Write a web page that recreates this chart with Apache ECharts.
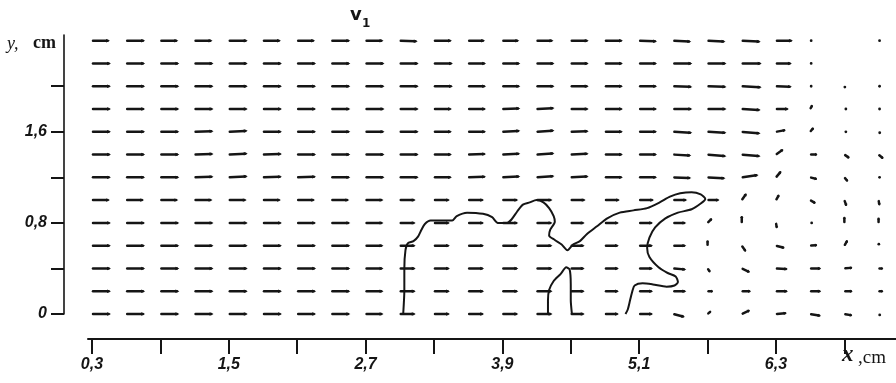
<!DOCTYPE html>
<html>
<head>
<meta charset="utf-8">
<script src="https://cdn.jsdelivr.net/npm/echarts@6/dist/echarts.min.js"></script>
<style>
  html, body { margin: 0; padding: 0; background: #fff; }
  #main { width: 896px; height: 383px; }
</style>
</head>
<body>
<div id="main"></div>
<script>
// grid of the measured velocity field (cm)
const columnsX = [0.3, 0.6, 0.9, 1.2, 1.5, 1.8, 2.1, 2.4, 2.7, 3.0, 3.3, 3.6,
                  3.9, 4.2, 4.5, 4.8, 5.1, 5.4, 5.7, 6.0, 6.3, 6.6, 6.9, 7.2];
const rowsY = [2.4, 2.2, 2.0, 1.8, 1.6, 1.4, 1.2, 1.0, 0.8, 0.6, 0.4, 0.2, 0];

// vector magnitude per row (arbitrary units), top row first
const speedRows = [
  [18, 19, 18, 18, 19, 18, 18, 19, 18, 18, 18, 17, 17, 17, 18, 18, 18, 18, 18, 19, 17, 2, 0, 2],
  [19, 19, 19, 19, 19, 19, 19, 19, 19, 19, 19, 18, 18, 18, 18, 18, 18, 19, 19, 20, 16, 2, 0, 0],
  [19, 19, 19, 19, 19, 19, 19, 19, 19, 19, 19, 18, 18, 18, 18, 18, 18, 19, 19, 20, 16, 2, 2, 2],
  [19, 19, 19, 19, 19, 19, 19, 19, 19, 19, 18, 18, 18, 18, 18, 18, 18, 19, 19, 19, 13, 4, 3, 2],
  [19, 19, 19, 19, 19, 19, 19, 19, 19, 19, 18, 18, 18, 18, 18, 18, 18, 19, 19, 19, 10, 5, 3, 3],
  [19, 19, 19, 19, 19, 19, 19, 19, 19, 19, 18, 18, 18, 18, 18, 18, 18, 18, 19, 19, 9, 7, 6, 6],
  [19, 19, 19, 19, 19, 19, 19, 19, 19, 19, 18, 18, 18, 18, 18, 18, 18, 18, 18, 17, 8, 7, 5, 2],
  [18, 18, 18, 18, 18, 18, 18, 18, 18, 16, 16, 16, 16, 16, 15, 15, 15, 14, 12, 8, 6, 6, 6, 5],
  [19, 19, 19, 19, 19, 19, 19, 19, 18, 16, 16, 16, 16, 16, 14, 14, 14, 13, 6, 7, 5, 3, 6, 5],
  [19, 19, 19, 19, 19, 19, 19, 19, 18, 16, 16, 16, 16, 16, 14, 14, 14, 13, 5, 7, 9, 7, 6, 3],
  [19, 19, 19, 19, 19, 19, 19, 19, 18, 16, 16, 16, 16, 16, 14, 14, 14, 13, 4, 9, 12, 11, 8, 4],
  [19, 19, 19, 19, 19, 19, 19, 19, 18, 16, 16, 16, 16, 16, 14, 14, 14, 13, 5, 9, 12, 11, 8, 4],
  [19, 19, 19, 19, 19, 19, 19, 19, 18, 16, 16, 16, 16, 16, 14, 14, 14, 12, 4, 9, 11, 11, 8, 3]
];

// vector direction per row (degrees, counter-clockwise from +x)
const angleRows = [
  [0, 0, 0, 0, 0, 0, 0, 0, 0, -2, 0, 0, 0, 0, 0, 0, -2, -3, -3, -3, 0, 0, 0, 0],
  [0, 0, 0, 0, 0, 0, 0, 0, 0, 0, 0, 0, 0, 0, 0, 0, 0, 0, 0, 0, 0, 0, 0, 0],
  [0, 0, 0, 0, 0, 0, 0, 0, 0, 0, 0, 0, 0, 0, 0, 0, 0, -2, -2, -3, -2, 0, -60, 0],
  [0, 0, 0, 0, 0, 0, 0, 0, 0, 0, 0, 0, 2, 3, 0, 0, 0, 0, 0, -3, 0, 60, 0, 0],
  [0, 0, 0, 2, 3, 0, 0, 0, 0, 0, 0, 0, 3, 4, 2, 0, 0, -3, -3, -5, 10, 50, 0, -40],
  [0, 0, 0, 2, 3, 2, 0, 0, 0, 0, 0, 2, 3, 4, 3, 0, 0, -3, -5, -5, 35, 0, -35, -40],
  [0, 0, 0, 2, 3, 2, 2, 0, 0, 0, 0, 2, 3, 4, 3, 0, 0, -2, -3, 8, 50, -15, -50, 0],
  [0, 0, 0, 0, 0, 0, 0, 0, 0, 0, 0, 0, 0, 0, 0, 0, 0, 0, 0, 55, 60, -30, -70, -80],
  [0, 0, 0, 0, 0, 0, 0, 0, 0, 0, 0, 0, 0, 0, 0, 0, 0, 0, 45, 90, -80, 0, 90, 90],
  [0, 0, 0, 0, 0, 0, 0, 0, 0, 0, 0, 0, 0, 0, 0, 0, 0, 0, 90, -55, -15, 5, 60, 80],
  [0, 0, 0, 0, 0, 0, 0, 0, 0, 0, 0, 0, 0, 0, 0, 0, 0, -5, -55, -25, -3, 0, 5, 0],
  [0, 0, 0, 0, 0, 0, 0, 0, 0, 0, 0, 0, 0, 0, 0, 0, 0, 0, 0, 0, 0, 0, 0, 0],
  [0, 0, 0, 0, 0, 0, 0, 0, 0, 0, 0, 0, 0, 0, 0, 0, 0, -15, 40, 25, 5, -10, -10, -40]
];

// interface outline (cm)
const interfaceLine = [
  [3.03, 0], [3.04, 0.21], [3.04, 0.40], [3.05, 0.56], [3.07, 0.62], [3.12, 0.64],
  [3.16, 0.68], [3.19, 0.74], [3.22, 0.79], [3.27, 0.82], [3.37, 0.82], [3.46, 0.82],
  [3.50, 0.86], [3.59, 0.89], [3.73, 0.88], [3.81, 0.85], [3.86, 0.80], [3.94, 0.80],
  [3.98, 0.83], [4.03, 0.90], [4.08, 0.96], [4.14, 0.98], [4.20, 1.00], [4.26, 0.98],
  [4.31, 0.93], [4.35, 0.86], [4.36, 0.81], [4.32, 0.74], [4.31, 0.69], [4.36, 0.65],
  [4.42, 0.61], [4.47, 0.56], [4.52, 0.61], [4.58, 0.64], [4.64, 0.70], [4.73, 0.77],
  [4.82, 0.84], [4.93, 0.89], [5.05, 0.91], [5.17, 0.93], [5.28, 0.98], [5.37, 1.03],
  [5.46, 1.06], [5.56, 1.07], [5.64, 1.05], [5.68, 1.01], [5.64, 0.97], [5.56, 0.92],
  [5.44, 0.89], [5.33, 0.84], [5.24, 0.76], [5.19, 0.67], [5.17, 0.58], [5.19, 0.50],
  [5.27, 0.41], [5.35, 0.36], [5.42, 0.33], [5.44, 0.28], [5.41, 0.25], [5.34, 0.24],
  [5.22, 0.26], [5.13, 0.27], [5.06, 0.25], [5.04, 0.20], [5.02, 0.12], [5.00, 0.04],
  [4.98, 0]
];
const pillarLine = [
  [4.30, 0], [4.30, 0.12], [4.31, 0.21], [4.35, 0.29], [4.41, 0.35], [4.46, 0.41],
  [4.49, 0.39], [4.50, 0.26], [4.50, 0.12], [4.51, 0]
];

const xTicks = [0.3, 0.9, 1.5, 2.1, 2.7, 3.3, 3.9, 4.5, 5.1, 5.7, 6.3, 6.9];
const xLabels = [0.3, 1.5, 2.7, 3.9, 5.1, 6.3];
const yTicks = [0, 0.4, 0.8, 1.2, 1.6, 2.0];
const yLabels = [0, 0.8, 1.6];

const ink = '#151515';
const cmPerUnit = 1 / 114;

const vectors = [];
rowsY.forEach((y, r) => {
  columnsX.forEach((x, c) => {
    vectors.push([x, y, speedRows[r][c], angleRows[r][c]]);
  });
});

function renderVector(params, api) {
  if (api.value(2) === 0) return null;
  const x = api.value(0), y = api.value(1);
  const L = api.value(2) * cmPerUnit;
  const a = api.value(3) * Math.PI / 180;
  const p0 = api.coord([x, y]);
  const p1 = api.coord([x + L * Math.cos(a), y + L * Math.sin(a)]);
  const dx = p1[0] - p0[0], dy = p1[1] - p0[1];
  const len = Math.hypot(dx, dy);
  if (len < 3) {
    return { type: 'circle', shape: { cx: p0[0] + dx / 2, cy: p0[1] + dy / 2, r: 1.4 }, style: { fill: ink } };
  }
  const ux = dx / len, uy = dy / len;
  const h = Math.min(4, len * 0.3), w = 1.7;
  return {
    type: 'group',
    children: [
      { type: 'line', shape: { x1: p0[0] + ux, y1: p0[1] + uy, x2: p1[0] - ux * h * 0.6, y2: p1[1] - uy * h * 0.6 },
        style: { stroke: ink, lineWidth: 2.5, lineCap: 'round' } },
      { type: 'polygon', shape: { points: [
          [p1[0], p1[1]],
          [p1[0] - ux * h - uy * w, p1[1] - uy * h + ux * w],
          [p1[0] - ux * h + uy * w, p1[1] - uy * h - ux * w]
        ] }, style: { fill: ink } }
    ]
  };
}

const fmt = v => v === 0 ? '0' : v.toFixed(1).replace('.', ',');
const labelStyle = { color: ink, fontFamily: 'Liberation Sans', fontStyle: 'italic', fontWeight: 'bold', fontSize: 16 };

const chart = echarts.init(document.getElementById('main'), null, { renderer: 'canvas' });
chart.setOption({
  backgroundColor: '#fff',
  animation: false,
  grid: { left: 88, right: 0, top: 35, bottom: 69, outerBoundsMode: 'none' },
  xAxis: {
    type: 'value', min: 0.265, max: 7.353, offset: 25,
    axisLine: { onZero: false, lineStyle: { color: ink, width: 2 } },
    axisTick: { length: 15, customValues: xTicks, lineStyle: { color: ink, width: 2 } },
    axisLabel: Object.assign({ customValues: xLabels, formatter: fmt, margin: 18 }, labelStyle),
    splitLine: { show: false }
  },
  yAxis: {
    type: 'value', min: 0, max: 2.45, offset: 24,
    axisLine: { show: true, onZero: false, lineStyle: { color: ink, width: 1.6 } },
    axisTick: { show: true, length: 13, customValues: yTicks, lineStyle: { color: ink, width: 2 } },
    axisLabel: Object.assign({ customValues: yLabels, formatter: fmt, margin: 17 }, labelStyle),
    splitLine: { show: false }
  },
  graphic: [
    { type: 'text', left: 350, top: 6, style: { text: 'v', fill: ink, font: 'bold 18px "DejaVu Sans"' } },
    { type: 'text', left: 362, top: 18, style: { text: '1', fill: ink, font: 'bold 12px "DejaVu Sans"' } },
    { type: 'text', left: 7, top: 35, style: { text: 'y,', fill: ink, font: 'italic 18px "Liberation Serif"' } },
    { type: 'text', left: 33, top: 34, style: { text: 'cm', fill: ink, font: 'bold 18px "Liberation Serif"' } },
    { type: 'text', left: 842, top: 344, style: { text: 'x', fill: ink, font: 'italic bold 23px "Liberation Serif"' } },
    { type: 'text', left: 858, top: 349, style: { text: ',cm', fill: ink, font: '19px "Liberation Serif"' } }
  ],
  series: [
    {
      type: 'custom', coordinateSystem: 'cartesian2d', renderItem: renderVector,
      encode: { x: 0, y: 1 }, data: vectors, clip: false, silent: true
    },
    {
      type: 'line', data: interfaceLine, symbol: 'none', smooth: 0.25, silent: true,
      lineStyle: { color: ink, width: 2 }
    },
    {
      type: 'line', data: pillarLine, symbol: 'none', smooth: 0.2, silent: true,
      lineStyle: { color: ink, width: 2 }
    }
  ]
});
</script>
</body>
</html>
